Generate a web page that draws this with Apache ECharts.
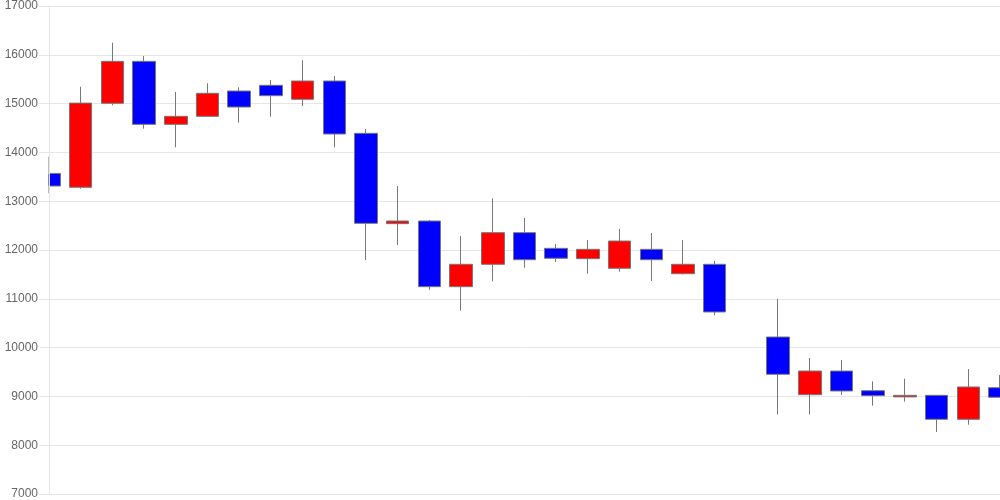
<!DOCTYPE html>
<html>
<head>
<meta charset="utf-8">
<script src="https://cdn.jsdelivr.net/npm/echarts@6/dist/echarts.min.js"></script>
<style>html,body{margin:0;padding:0;background:#fff}#c{width:1000px;height:500px}</style>
</head>
<body>
<div id="c"></div>
<script>
// categories (31 trading slots; slot 23 empty)
const categories = Array.from({length: 31}, (_, i) => String(i + 1));
// OHLC values
const opens  = [13570, 13285, 15006, 15866, 14575, 14739, 15258, 15375, 15088, 15463, 14391, 12540, 12594, 11248, 11707, 12355, 12034, 11822, 11625, 12014, 11514, 11707, null, 10217, 9035, 9520, 9117, 8990, 9022, 8531, 9178];
const closes = [13311, 15010, 15866, 14575, 14739, 15211, 14930, 15162, 15463, 14377, 12547, 12594, 11248, 11707, 12355, 11801, 11830, 12014, 12184, 11801, 11707, 10730, null, 9453, 9520, 9111, 9015, 9022, 8531, 9193, 8982];
const lows   = [13162, 13256, 14965, 14486, 14104, 14730, 14609, 14732, 14951, 14104, 11795, 12102, 11186, 10756, 11359, 11637, 11754, 11514, 11555, 11365, 11500, 10662, null, 8633, 8633, 9029, 8810, 8892, 8270, 8420, 8982];
const highs  = [13912, 15346, 16248, 15975, 15238, 15416, 15334, 15484, 15887, 15566, 14480, 13311, 12615, 12287, 13059, 12656, 12123, 12205, 12430, 12348, 12205, 11775, null, 10996, 9787, 9746, 9309, 9363, 9022, 9561, 9439];
const yTicks = [7000, 8000, 9000, 10000, 11000, 12000, 13000, 14000, 15000, 16000, 17000];

const data = categories.map((c, i) => opens[i] == null ? '-' : [opens[i], closes[i], lows[i], highs[i]]);
const yMin = yTicks[0], yMax = yTicks[yTicks.length - 1];

const chart = echarts.init(document.getElementById('c'), null, {renderer: 'canvas'});
chart.setOption({
  animation: false,
  backgroundColor: '#ffffff',
  grid: {left: 49, right: 0, top: 6, bottom: 6, containLabel: false},
  // white mask left of the plot so the first candle is cut at the axis like the reference
  graphic: [{
    type: 'rect', z: 5, silent: true,
    shape: {x: 0, y: 0, width: 48.5, height: 500},
    style: {fill: '#ffffff'}
  }],
  xAxis: {
    type: 'category',
    data: categories,
    boundaryGap: false,
    axisLine: {show: false},
    axisTick: {show: false},
    axisLabel: {show: false},
    splitLine: {show: false}
  },
  yAxis: [{
    // grid lines behind the candles
    type: 'value',
    z: 0,
    min: yMin, max: yMax, interval: 1000,
    axisLine: {show: false},
    axisTick: {show: false},
    axisLabel: {show: false},
    splitLine: {show: true, lineStyle: {color: '#e6e6e6'}}
  }, {
    // axis line, ticks and labels above the mask
    type: 'value',
    position: 'left',
    z: 10,
    min: yMin, max: yMax, interval: 1000,
    axisLine: {show: true, lineStyle: {color: '#e6e6e6'}},
    axisTick: {show: true, length: 10, lineStyle: {color: '#e6e6e6'}},
    axisLabel: {
      color: '#666', fontFamily: 'Liberation Sans, Arial, sans-serif', fontSize: 12, margin: 11,
      formatter: v => String(v)
    },
    splitLine: {show: false}
  }],
  series: [{
    type: 'candlestick',
    yAxisIndex: 0,
    z: 2,
    data: data,
    barWidth: 23,
    itemStyle: {
      color: '#ff0000',
      color0: '#0000ff',
      borderColor: '#777777',
      borderColor0: '#777777',
      borderWidth: 1
    }
  }]
});
</script>
</body>
</html>
